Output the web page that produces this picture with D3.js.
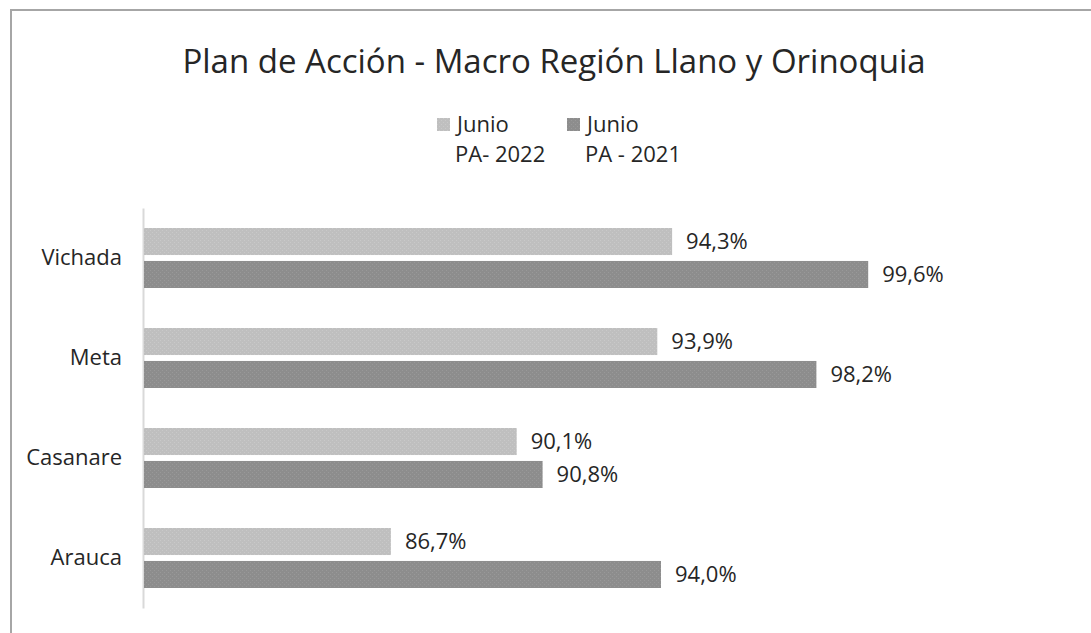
<!DOCTYPE html>
<html>
<head>
<meta charset="utf-8">
<script src="https://cdn.jsdelivr.net/npm/d3@7"></script>
<style>
  body { margin: 0; background: #fff; overflow: hidden; }
  svg { display: block; }
  svg text { font-family: "Open Sans", sans-serif; fill: #262626; }
</style>
</head>
<body>
<div id="chart"></div>
<script>
// data
const categories = ['Vichada', 'Meta', 'Casanare', 'Arauca'];
const seriesNames = ['Junio PA- 2022', 'Junio PA - 2021'];
const legendLines = [['Junio', 'PA- 2022'], ['Junio', 'PA - 2021']];
const values2022 = [94.3, 93.9, 90.1, 86.7];
const values2021 = [99.6, 98.2, 90.8, 94.0];
const xDomain = [80, 100];

const width = 1091, height = 633;
const fills = ['url(#pat-light)', 'url(#pat-dark)'];

const svg = d3.select('#chart').append('svg')
    .attr('width', width)
    .attr('height', height);

// dotted texture like the original bars
const defs = svg.append('defs');
function addPattern(id, base, dot) {
    const p = defs.append('pattern')
        .attr('id', id)
        .attr('width', 4).attr('height', 4)
        .attr('patternUnits', 'userSpaceOnUse');
    p.append('rect').attr('width', 4).attr('height', 4).attr('fill', base);
    p.append('rect').attr('x', 0).attr('y', 0).attr('width', 1).attr('height', 1).attr('fill', dot);
    p.append('rect').attr('x', 2).attr('y', 2).attr('width', 1).attr('height', 1).attr('fill', dot);
}
addPattern('pat-light', '#bfbfbf', '#c9c9c9');
addPattern('pat-dark', '#8d8d8d', '#999999');

// chart frame (only top / left visible in the crop)
svg.append('path')
    .attr('d', `M11,${height} L11,10 L${width},10`)
    .attr('fill', 'none')
    .attr('stroke', '#a6a6a6')
    .attr('stroke-width', 2);

// title
svg.append('text')
    .attr('x', 554)
    .attr('y', 73)
    .attr('text-anchor', 'middle')
    .style('font-size', '33px')
    .text('Plan de Acción - Macro Región Llano y Orinoquia');

// legend
const legendX = [437, 567];
const legend = svg.selectAll('.legend')
    .data(seriesNames)
    .enter().append('g')
    .attr('class', 'legend')
    .attr('transform', (d, i) => `translate(${legendX[i]},0)`);

legend.append('rect')
    .attr('x', 0).attr('y', 118)
    .attr('width', 13).attr('height', 13)
    .attr('fill', (d, i) => fills[i]);

legend.append('text')
    .attr('x', 20)
    .attr('y', 132)
    .style('font-size', '22px')
    .text((d, i) => legendLines[i][0]);

legend.append('text')
    .attr('x', 18)
    .attr('y', 162)
    .style('font-size', '22px')
    .text((d, i) => legendLines[i][1]);

// scales
const xScale = d3.scaleLinear()
    .domain(xDomain)
    .range([143, 883]);

const yScale = d3.scaleBand()
    .domain(categories)
    .range([208, 608])
    .paddingInner(0.4)
    .paddingOuter(0.2);

const ySub = d3.scaleBand()
    .domain([0, 1])
    .range([0, yScale.bandwidth()])
    .paddingInner(0.18);

// vertical axis
const yAxis = d3.axisLeft(yScale).tickSize(0).tickPadding(21);
const gy = svg.append('g')
    .attr('transform', `translate(${xScale(xDomain[0])},0)`)
    .call(yAxis);
gy.select('.domain').attr('stroke', '#d9d9d9').attr('stroke-width', 2);
gy.selectAll('text')
    .style('font-size', '22px')
    .style('font-family', '"Open Sans", sans-serif')
    .attr('fill', '#262626');

// bars
const rows = categories.map((c, i) => ({ cat: c, vals: [values2022[i], values2021[i]] }));
const groups = svg.selectAll('.group')
    .data(rows)
    .enter().append('g')
    .attr('class', 'group')
    .attr('transform', d => `translate(0,${yScale(d.cat)})`);

const fmt = v => d3.format('.1f')(v).replace('.', ',') + '%';

groups.selectAll('rect')
    .data(d => d.vals)
    .enter().append('rect')
    .attr('x', xScale(xDomain[0]) + 1)
    .attr('y', (d, i) => ySub(i))
    .attr('width', d => xScale(d) - xScale(xDomain[0]) - 1)
    .attr('height', ySub.bandwidth())
    .attr('fill', (d, i) => fills[i]);

groups.selectAll('.val')
    .data(d => d.vals)
    .enter().append('text')
    .attr('class', 'val')
    .attr('x', d => xScale(d) + 14)
    .attr('y', (d, i) => ySub(i) + ySub.bandwidth() / 2)
    .attr('dy', '0.35em')
    .style('font-size', '22px')
    .text(fmt);
</script>
</body>
</html>
